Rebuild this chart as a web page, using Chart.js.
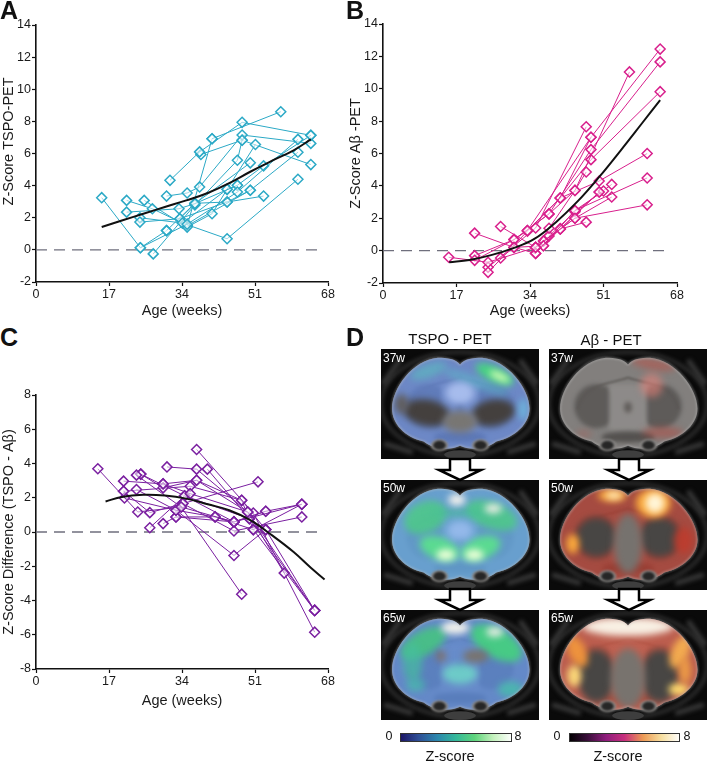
<!DOCTYPE html>
<html>
<head>
<meta charset="utf-8">
<title>Z-score PET</title>
<script src="https://cdn.jsdelivr.net/npm/chart.js@4"></script>
<style>
  html, body { margin: 0; padding: 0; background: #fff; }
  body { position: relative; width: 708px; height: 761px; overflow: hidden; font-family: "Liberation Sans", Arial, sans-serif; color: #111; }
  canvas { position: absolute; display: block; }
  .txt { position: absolute; white-space: nowrap; line-height: 1; }
  .letter { font-weight: bold; font-size: 25px; }
  .head { font-size: 15px; transform: translateX(-50%); }
  .week { font-size: 12px; color: #fff; }
  .zlab { font-size: 14.5px; transform: translateX(-50%); }
  .num { font-size: 12.5px; transform: translateX(-50%); }
</style>
</head>
<body>
<canvas id="chartA" width="340" height="320" style="left:0;top:0"></canvas>
<canvas id="chartB" width="361" height="320" style="left:347px;top:0"></canvas>
<canvas id="chartC" width="340" height="340" style="left:0;top:370px"></canvas>
<canvas id="brains" width="348" height="425" style="left:360px;top:330px"></canvas>

<div class="txt letter" style="left:0;top:-2px">A</div>
<div class="txt letter" style="left:346px;top:-2px">B</div>
<div class="txt letter" style="left:0;top:325px">C</div>
<div class="txt letter" style="left:346px;top:325px">D</div>
<div class="txt head" style="left:450px;top:331px">TSPO - PET</div>
<div class="txt head" style="left:611px;top:332px">Aβ - PET</div>
<div class="txt week" style="left:383px;top:352px">37w</div>
<div class="txt week" style="left:551px;top:352px">37w</div>
<div class="txt week" style="left:383px;top:482px">50w</div>
<div class="txt week" style="left:551px;top:482px">50w</div>
<div class="txt week" style="left:383px;top:612px">65w</div>
<div class="txt week" style="left:551px;top:612px">65w</div>
<div class="txt num" style="left:389px;top:730px">0</div>
<div class="txt num" style="left:518px;top:730px">8</div>
<div class="txt num" style="left:557px;top:730px">0</div>
<div class="txt num" style="left:687px;top:730px">8</div>
<div class="txt zlab" style="left:450px;top:749px">Z-score</div>
<div class="txt zlab" style="left:618px;top:749px">Z-score</div>

<script>
// axis ticks
var ageTicks = [0, 17, 34, 51, 68];
var dashEnd = [[0, 0], [66, 0]];

// Panel A - TSPO, one list per animal [age, z]
var tspoMice = [
  [[15.3, 3.25], [24.3, 0.13], [35.2, 1.6], [46.9, 3.6], [61, 6.88]],
  [[21.1, 3.08], [27.1, 2.56], [34.1, 1.67], [44.5, 0.69], [61, 4.4]],
  [[21.1, 2.35], [33.3, 2.56], [37, 2.88], [46.9, 4.02], [53, 5.23], [64, 7.13]],
  [[24.2, 1.73], [33.5, 1.94], [37, 2.88], [49.9, 5.42]],
  [[25.2, 3.08], [35.2, 1.42], [41, 2.25], [44.5, 3.77], [51.1, 6.56]],
  [[27.3, -0.25], [37, 2.8], [46.9, 5.58], [48, 6.83]],
  [[30.4, 3.35], [35.2, 3.54], [38.1, 3.92], [48, 7.15], [64, 6.63]],
  [[31.2, 4.33], [38.1, 6.1], [48, 7.94], [64, 7.13]],
  [[30.4, 1.2], [37, 2.9], [44.5, 2.98], [53, 3.35]],
  [[38.4, 5.94], [48, 6.83], [64, 5.31]],
  [[41, 6.92], [57, 8.6]],
  [[35.2, 1.5], [41, 6.92]],
  [[35.2, 1.5], [49.9, 3.71], [61, 6.08]],
  [[24.2, 2], [34.1, 1.67], [44.5, 3.77], [46.9, 4.02]],
  [[33.5, 1.94], [44.5, 2.98], [49.9, 3.71]],
  [[24.3, 0.13], [30.4, 1.2]]
];
var tspoFitAges = [15.3, 20, 25, 30, 35, 40, 45, 50, 55, 60, 64];
var tspoFitValues = [1.42, 1.83, 2.25, 2.67, 3.08, 3.54, 4.15, 4.88, 5.55, 6.2, 6.88];

// Panel B - amyloid
var abetaMice = [
  [[15.2, -0.41], [24.3, -0.72], [35.3, 0.2], [44.4, 2], [61.1, 2.83]],
  [[21.2, 1.08], [30.3, 0.2], [35.3, -0.17], [44.4, 2.48], [61.1, 4.49]],
  [[21.2, -0.6], [30.3, 0.68], [33.4, 1.24], [48.1, 7]],
  [[21.2, -0.31], [30.3, 0.68], [38.4, 2.27], [48.1, 6.24], [64.1, 11.66]],
  [[24.3, -1.34], [33.4, 1.2], [41, 3.25], [48.1, 7], [64.1, 12.45]],
  [[24.3, -1.03], [35.3, 1.4], [47, 7.65]],
  [[27.2, 1.49], [35.3, 0.2], [38.4, 1.38], [44.4, 3.72], [47, 4.86]],
  [[27.2, -0.45], [30.3, 0.2], [37.1, 0.3], [41, 1.34], [50, 3.62]],
  [[30.3, 0.68], [38.4, 2.27], [44.4, 3.72], [57, 11.04]],
  [[33.4, 1.24], [41, 3.25], [48.1, 5.62], [64.1, 9.82]],
  [[35.3, -0.17], [37.1, 0.6], [41, 1.34], [47, 1.76]],
  [[37.1, 0.3], [44.4, 2.48], [51, 3.68]],
  [[37.2, 0.6], [44.4, 2], [52.9, 3.31]],
  [[38.4, 0.9], [44.4, 2.4], [52.9, 4.09]],
  [[41, 3.25], [50, 4.3], [61.1, 6]],
  [[35.3, 0.2], [41, 1.34], [50, 3.62]]
];
var abetaFitAges = [15.3, 20, 25, 30, 35, 40, 45, 50, 55, 60, 64.1];
var abetaFitValues = [-0.72, -0.58, -0.28, 0.14, 0.72, 1.76, 3.04, 4.55, 6.2, 7.9, 9.3];

// Panel C - difference
var diffMice = [
  [[14.4, 3.69], [23.7, 1.17], [33.8, 1.46], [46.1, 0.59], [61.9, 1.62]],
  [[20.4, 2.97], [29.6, 2.81], [35.9, 2.24], [49.3, 1.17], [64.9, -4.58]],
  [[20.4, 2.38], [26.5, 1.13], [34.2, 1.66], [46.1, 0.06], [61.9, 0.88]],
  [[20.6, 1.99], [32.6, 1.27], [41.7, 0.88], [50.6, 0.14], [61.9, 1.62]],
  [[23.4, 3.32], [33.8, 1.46], [47.9, -3.63]],
  [[24.4, 3.38], [29.6, 2.58], [37.4, 3.02], [49.3, 1.17]],
  [[23.4, 2.48], [32.6, 1.27], [46.1, -1.37], [53.5, 0.14]],
  [[26.5, 0.25], [34.6, 2.11], [49.7, 0.78], [64.9, -4.58]],
  [[29.6, 0.49], [32.6, 0.88], [46.1, 0.59], [53.5, 1.21], [61.9, 1.62]],
  [[30.5, 3.8], [37.4, 3.67], [49.3, 1.17], [57.8, -2.4]],
  [[37.4, 4.82], [50.6, 1.11], [64.9, -5.85]],
  [[39.9, 3.67], [49.7, 0.78], [53.5, 0.14]],
  [[34.2, 1.66], [51.7, 2.93]],
  [[29.6, 2.81], [37.4, 3.02], [47.9, 1.85], [50.6, 0.14], [64.9, -4.58]],
  [[32.6, 0.88], [41.7, 0.88], [46.1, 0.59], [53.5, 1.21]],
  [[20.4, 2.38], [35.9, 2.67], [47.9, 1.85], [53.5, 0.14], [64.9, -4.58]],
  [[24.4, 3.38], [34.6, 2.11], [46.1, 0.59]]
];
var diffFitAges = [16.2, 20, 25, 30, 35, 40, 45, 50, 55, 60, 64, 67.2];
var diffFitValues = [1.78, 2.05, 2.17, 2.13, 1.95, 1.62, 1.27, 0.68, -0.2, -1.17, -2.09, -2.77];

Chart.defaults.font.family = '"Liberation Sans", Arial, sans-serif';
Chart.defaults.color = "#1a1a1a";

function toPoints(pairs) {
  return pairs.map(function (p) { return { x: p[0], y: p[1] }; });
}

function makeChart(id, mice, fitAges, fitValues, color, yMin, yMax, yTitle, layout) {
  var datasets = [];
  datasets.push({
    data: toPoints(dashEnd),
    showLine: true,
    pointRadius: 0,
    borderColor: "#6f6f7d",
    borderWidth: 1.3,
    borderDash: [11, 7],
    order: 5
  });
  mice.forEach(function (m) {
    datasets.push({
      data: toPoints(m),
      showLine: true,
      borderColor: color,
      borderWidth: 1,
      pointStyle: "rectRot",
      pointRadius: 5,
      pointBorderWidth: 1.5,
      pointBorderColor: color,
      pointBackgroundColor: "rgba(255,255,255,0.55)",
      order: 2
    });
  });
  datasets.push({
    data: fitAges.map(function (a, i) { return { x: a, y: fitValues[i] }; }),
    showLine: true,
    pointRadius: 0,
    borderColor: "#111",
    borderWidth: 2,
    tension: 0.4,
    order: 1
  });

  return new Chart(document.getElementById(id), {
    type: "scatter",
    data: { datasets: datasets },
    options: {
      responsive: false,
      animation: false,
      layout: { padding: { top: layout.top, right: layout.right, bottom: 0, left: 0 } },
      plugins: { legend: { display: false }, tooltip: { enabled: false } },
      scales: {
        x: {
          type: "linear",
          min: 0,
          max: 68,
          afterBuildTicks: function (s) { s.ticks = ageTicks.map(function (v) { return { value: v }; }); },
          afterFit: function (s) { s.height = layout.bottom; },
          grid: { drawOnChartArea: false, color: "#111", tickLength: 4, tickWidth: 1.2 },
          border: { color: "#111", width: 1.6 },
          ticks: { font: { size: 12.5 }, padding: 1, maxRotation: 0 },
          title: { display: true, text: "Age (weeks)", font: { size: 14.5 }, padding: { top: 0, bottom: 0 } }
        },
        y: {
          min: yMin,
          max: yMax,
          afterFit: function (s) { s.width = 36; },
          grid: { drawOnChartArea: false, color: "#111", tickLength: 4, tickWidth: 1.2 },
          border: { color: "#111", width: 1.6 },
          ticks: { stepSize: 2, font: { size: 12.5 }, padding: 1 },
          title: { display: true, text: yTitle, font: { size: 14.5 }, padding: { top: 0, bottom: 0 } }
        }
      }
    }
  });
}

makeChart("chartA", tspoMice, tspoFitAges, tspoFitValues, "#2ba9c6", -2, 14, "      Z-Score TSPO-PET", { top: 25, right: 12, bottom: 38 });
makeChart("chartB", abetaMice, abetaFitAges, abetaFitValues, "#d81f8c", -2, 14, "Z-Score Aβ -PET", { top: 24, right: 31, bottom: 37 });
makeChart("chartC", diffMice, diffFitAges, diffFitValues, "#7a1fa0", -8, 8, "Z-Score Difference (TSPO - Aβ)", { top: 25, right: 12, bottom: 41 });

// Panel D, the PET overlays: not chart data, painted on a plain canvas
var panelW = 158, panelH = 110;
var colXs = [21, 189];
var rowYs = [19, 150, 280];

// blob: cx, cy, rx, ry, angle (deg), colour - in fractions of the image
var tspo37 = { base: "rgba(100,140,230,0.7)", blobs: [
  [0.29, 0.58, 0.15, 0.12, 10, "rgba(68,64,62,1)"], [0.71, 0.58, 0.14, 0.12, -10, "rgba(68,64,62,1)"], [0.5, 0.66, 0.11, 0.1, 0, "rgba(120,118,115,1)"],
  [0.13, 0.5, 0.045, 0.09, 0, "rgba(95,90,85,0.9)"], [0.3, 0.2, 0.12, 0.06, -20, "rgba(90,190,190,0.6)"], [0.6, 0.3, 0.22, 0.05, 20, "rgba(90,190,200,0.5)"],
  [0.72, 0.23, 0.13, 0.07, 25, "rgba(70,210,130,1)"], [0.75, 0.25, 0.07, 0.03, 25, "rgba(225,255,185,1)"], [0.5, 0.4, 0.09, 0.1, 0, "rgba(180,200,245,0.8)"],
  [0.9, 0.55, 0.03, 0.1, 0, "rgba(110,190,225,0.8)"] ] };
var tspo50 = { base: "rgba(100,165,220,0.85)", blobs: [
  [0.28, 0.34, 0.14, 0.14, -25, "rgba(75,205,130,0.8)"], [0.7, 0.32, 0.17, 0.12, 20, "rgba(75,205,130,0.8)"], [0.5, 0.3, 0.2, 0.04, 0, "rgba(70,190,150,0.6)"],
  [0.48, 0.18, 0.055, 0.055, 0, "rgba(240,240,235,1)"], [0.71, 0.26, 0.055, 0.045, 0, "rgba(230,235,225,1)"],
  [0.37, 0.62, 0.13, 0.1, 20, "rgba(90,225,140,0.9)"], [0.63, 0.62, 0.13, 0.1, -20, "rgba(90,225,140,0.9)"], [0.41, 0.68, 0.06, 0.05, 0, "rgba(235,255,215,1)"], [0.59, 0.68, 0.06, 0.05, 0, "rgba(235,255,215,1)"],
  [0.5, 0.46, 0.08, 0.09, 0, "rgba(150,185,235,0.95)"] ] };
var tspo65 = { base: "rgba(92,140,220,0.78)", blobs: [
  [0.27, 0.3, 0.16, 0.11, -30, "rgba(70,195,130,0.9)"], [0.73, 0.3, 0.18, 0.13, 30, "rgba(70,205,130,0.95)"], [0.47, 0.16, 0.09, 0.06, 0, "rgba(240,240,235,1)"],
  [0.72, 0.2, 0.055, 0.045, 0, "rgba(225,235,225,1)"], [0.2, 0.48, 0.06, 0.17, 0, "rgba(70,190,160,0.7)"], [0.82, 0.72, 0.08, 0.07, 0, "rgba(70,190,170,0.8)"],
  [0.22, 0.68, 0.06, 0.06, 0, "rgba(70,190,170,0.7)"], [0.5, 0.58, 0.11, 0.09, 0, "rgba(110,210,200,0.9)"], [0.6, 0.42, 0.08, 0.06, 0, "rgba(120,115,110,1)"], [0.38, 0.42, 0.03, 0.05, 0, "rgba(130,110,95,0.9)"] ] };
var abeta37 = { base: "rgba(130,125,122,0.12)", blobs: [
  [0.66, 0.14, 0.14, 0.05, 10, "rgba(190,80,70,0.55)"], [0.65, 0.33, 0.07, 0.11, 0, "rgba(235,130,120,0.55)"], [0.72, 0.76, 0.13, 0.05, 0, "rgba(185,70,60,0.5)"],
  [0.22, 0.77, 0.05, 0.03, 0, "rgba(190,80,70,0.35)"] ] };
var abeta50 = { base: "rgba(175,60,48,0.78)", blobs: [
  [0.3, 0.52, 0.13, 0.18, 0, "rgba(72,70,68,1)"], [0.7, 0.52, 0.13, 0.18, 0, "rgba(72,70,68,1)"], [0.5, 0.58, 0.09, 0.27, 0, "rgba(118,114,110,1)"],
  [0.4, 0.14, 0.09, 0.055, 0, "rgba(250,170,60,1)"], [0.41, 0.14, 0.05, 0.03, 0, "rgba(255,240,200,1)"], [0.66, 0.21, 0.11, 0.13, 0, "rgba(250,170,60,1)"],
  [0.67, 0.21, 0.06, 0.09, 0, "rgba(255,245,215,1)"], [0.15, 0.58, 0.04, 0.09, 0, "rgba(250,170,60,1)"], [0.85, 0.55, 0.06, 0.12, 0, "rgba(190,60,45,0.9)"] ] };
var abeta65 = { base: "rgba(205,85,65,0.78)", blobs: [
  [0.3, 0.6, 0.12, 0.24, 0, "rgba(72,70,68,1)"], [0.7, 0.6, 0.12, 0.24, 0, "rgba(72,70,68,1)"], [0.5, 0.62, 0.11, 0.27, 0, "rgba(120,115,110,1)"],
  [0.5, 0.15, 0.29, 0.085, 0, "rgba(248,240,228,1)"], [0.18, 0.38, 0.055, 0.15, -25, "rgba(240,150,60,0.95)"], [0.83, 0.38, 0.055, 0.16, 25, "rgba(245,175,80,0.95)"],
  [0.16, 0.6, 0.045, 0.1, 0, "rgba(250,215,120,1)"], [0.82, 0.72, 0.065, 0.055, 0, "rgba(255,220,110,1)"], [0.86, 0.55, 0.04, 0.12, 0, "rgba(240,160,70,0.9)"] ] };
var overlays = [[tspo37, abeta37], [tspo50, abeta50], [tspo65, abeta65]];

var colorbarTspo = ["#1c1464", "#2f4f96", "#2c87ad", "#34b89a", "#5fd47c", "#c4f1bd", "#ffffff"];
var colorbarAbeta = ["#000000", "#3a0f3a", "#8e1d7c", "#c72f7d", "#ec9a55", "#f7dfa0", "#ffffff"];

function brainPath(c, x, y) {
  var w = panelW, h = panelH;
  function X(v) { return x + v * w; }
  function Y(v) { return y + v * h; }
  c.beginPath();
  c.moveTo(X(0.5), Y(0.14));
  c.bezierCurveTo(X(0.47), Y(0.09), X(0.42), Y(0.08), X(0.36), Y(0.08));
  c.bezierCurveTo(X(0.2), Y(0.1), X(0.07), Y(0.36), X(0.07), Y(0.54));
  c.bezierCurveTo(X(0.07), Y(0.68), X(0.15), Y(0.8), X(0.27), Y(0.84));
  c.bezierCurveTo(X(0.34), Y(0.92), X(0.44), Y(0.92), X(0.5), Y(0.88));
  c.bezierCurveTo(X(0.56), Y(0.92), X(0.66), Y(0.92), X(0.73), Y(0.84));
  c.bezierCurveTo(X(0.85), Y(0.8), X(0.94), Y(0.68), X(0.94), Y(0.54));
  c.bezierCurveTo(X(0.94), Y(0.36), X(0.8), Y(0.1), X(0.64), Y(0.08));
  c.bezierCurveTo(X(0.58), Y(0.08), X(0.53), Y(0.09), X(0.5), Y(0.14));
  c.closePath();
}

function ell(c, x, y, b) {
  c.fillStyle = b[5];
  c.beginPath();
  c.ellipse(x + b[0] * panelW, y + b[1] * panelH, b[2] * panelW, b[3] * panelH, b[4] * Math.PI / 180, 0, Math.PI * 2);
  c.fill();
}

function drawBrain(c, x, y, ov) {
  c.save();
  c.beginPath();
  c.rect(x, y, panelW, panelH);
  c.clip();
  c.fillStyle = "#0a0a0a";
  c.fillRect(x, y, panelW, panelH);

  // skull and muscle halo round the brain
  c.filter = "blur(2px)";
  c.strokeStyle = "#4a4a4a";
  c.lineWidth = 2;
  c.beginPath();
  c.ellipse(x + 0.5 * panelW, y + 0.5 * panelH, 0.5 * panelW, 0.47 * panelH, 0, 0, Math.PI * 2);
  c.stroke();
  c.strokeStyle = "#383838";
  c.lineWidth = 5;
  [[0.88, 0.1, 0.99, 0.32], [0.12, 0.1, 0.01, 0.32], [0.02, 0.86, 0.2, 0.94], [0.98, 0.86, 0.8, 0.94]].forEach(function (s) {
    c.beginPath();
    c.moveTo(x + s[0] * panelW, y + s[1] * panelH);
    c.lineTo(x + s[2] * panelW, y + s[3] * panelH);
    c.stroke();
  });
  c.filter = "none";

  // bottom of the skull, lighter band at the centre
  ell(c, x, y, [0.5, 0.96, 0.1, 0.04, 0, "#3e3e3e"]);

  // grey MR anatomy
  c.save();
  brainPath(c, x, y);
  c.fillStyle = "#82807e";
  c.fill();
  c.clip();
  c.filter = "blur(2px)";
  ell(c, x, y, [0.3, 0.52, 0.14, 0.2, 0, "#595755"]);
  ell(c, x, y, [0.7, 0.52, 0.14, 0.2, 0, "#595755"]);
  c.fillStyle = "#8f8d8b";
  c.fillRect(x + 0.38 * panelW, y + 0.32 * panelH, 0.24 * panelW, 0.42 * panelH);
  ell(c, x, y, [0.5, 0.53, 0.025, 0.05, 0, "#5d5a57"]);
  ell(c, x, y, [0.5, 0.8, 0.17, 0.05, 0, "#4e4c4a"]);
  c.filter = "blur(1px)";
  c.strokeStyle = "#55524f";
  c.lineWidth = 1.6;
  c.beginPath();
  c.moveTo(x + 0.18 * panelW, y + 0.55 * panelH);
  c.bezierCurveTo(x + 0.22 * panelW, y + 0.3 * panelH, x + 0.4 * panelW, y + 0.32 * panelH, x + 0.5 * panelW, y + 0.26 * panelH);
  c.bezierCurveTo(x + 0.6 * panelW, y + 0.32 * panelH, x + 0.78 * panelW, y + 0.3 * panelH, x + 0.82 * panelW, y + 0.55 * panelH);
  c.stroke();
  c.filter = "none";

  // PET overlay
  c.fillStyle = ov.base;
  c.fillRect(x, y, panelW, panelH);
  c.filter = "blur(3.5px)";
  ov.blobs.forEach(function (b) { ell(c, x, y, b); });
  c.filter = "none";
  c.restore();

  // bright rim of the brain, olfactory bumps below
  c.filter = "blur(1px)";
  c.strokeStyle = "rgba(195,195,195,0.55)";
  c.lineWidth = 1.5;
  brainPath(c, x, y);
  c.stroke();
  ell(c, x, y, [0.37, 0.875, 0.055, 0.055, 0, "#8a8886"]);
  ell(c, x, y, [0.63, 0.875, 0.055, 0.055, 0, "#8a8886"]);
  ell(c, x, y, [0.37, 0.875, 0.04, 0.04, 0, "#262626"]);
  ell(c, x, y, [0.63, 0.875, 0.04, 0.04, 0, "#262626"]);
  c.filter = "none";
  c.restore();
}

function drawArrow(c, cx, top, tip) {
  c.beginPath();
  c.moveTo(cx - 10, top);
  c.lineTo(cx + 10, top);
  c.lineTo(cx + 10, top + 11);
  c.lineTo(cx + 21, top + 11);
  c.lineTo(cx, tip);
  c.lineTo(cx - 21, top + 11);
  c.lineTo(cx - 10, top + 11);
  c.closePath();
  c.fillStyle = "#fff";
  c.fill();
  c.strokeStyle = "#000";
  c.lineWidth = 2.5;
  c.stroke();
}

function drawBar(c, x, y, w, h, stops) {
  var g = c.createLinearGradient(x, 0, x + w, 0);
  stops.forEach(function (s, i) { g.addColorStop(i / (stops.length - 1), s); });
  c.fillStyle = g;
  c.fillRect(x, y, w, h);
  c.strokeStyle = "#333";
  c.lineWidth = 1;
  c.strokeRect(x + 0.5, y + 0.5, w - 1, h - 1);
}

var bc = document.getElementById("brains").getContext("2d");
rowYs.forEach(function (ry, r) {
  colXs.forEach(function (cx, k) { drawBrain(bc, cx, ry, overlays[r][k]); });
});
drawArrow(bc, 100, 129, 150);
drawArrow(bc, 269, 129, 150);
drawArrow(bc, 100, 259, 280);
drawArrow(bc, 269, 259, 280);
drawBar(bc, 40, 403, 112, 9, colorbarTspo);
drawBar(bc, 209, 403, 111, 9, colorbarAbeta);
</script>
</body>
</html>
